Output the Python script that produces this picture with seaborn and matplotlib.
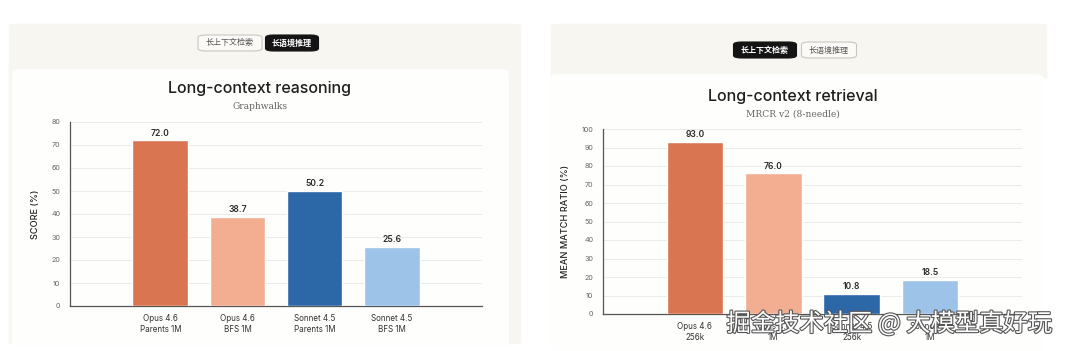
import matplotlib
matplotlib.use("Agg")
import matplotlib.pyplot as plt
import matplotlib.patheffects as pe
from matplotlib.patches import FancyBboxPatch
import pandas as pd
import seaborn as sns

# data
left_labels = ["Opus 4.6\nParents 1M", "Opus 4.6\nBFS 1M", "Sonnet 4.5\nParents 1M", "Sonnet 4.5\nBFS 1M"]
left_scores = [72.0, 38.7, 50.2, 25.6]
left_ticks = [0, 10, 20, 30, 40, 50, 60, 70, 80]

right_labels = ["Opus 4.6\n256k", "Opus 4.6\n1M", "Sonnet 4.5\n256k", "Sonnet 4.5\n1M"]
right_scores = [93.0, 76.0, 10.8, 18.5]
right_ticks = [0, 10, 20, 30, 40, 50, 60, 70, 80, 90, 100]

bar_colors = ["#d97551", "#f3ae92", "#2c67a8", "#9dc4e8"]
tabs = ["长上下文检索", "长语境推理"]

sns.set_theme(style="white")
plt.rcParams["font.family"] = ["Inter", "DejaVu Sans", "Noto Sans CJK SC"]

W, H = 1065, 351
fig = plt.figure(figsize=(W / 100, H / 100), dpi=100)
fig.patch.set_facecolor("white")


def px_box(x0, y0, x1, y1, color, rad=6, z=0, **kw):
    # rectangle given in pixel coords (top-left origin)
    p = FancyBboxPatch((x0 / W, 1 - y1 / H), (x1 - x0) / W, (y1 - y0) / H,
                       boxstyle=f"round,pad=0,rounding_size={rad / W}",
                       transform=fig.transFigure, facecolor=color, zorder=z, **kw)
    fig.patches.append(p)


def pill(xc, yc, w, text, active):
    px_box(xc - w / 2, yc - 8, xc + w / 2, yc + 8,
           "#141414" if active else "#fbfaf7", rad=8, z=2,
           edgecolor="#141414" if active else "#c9c6bf", linewidth=0.8)
    fig.text(xc / W, 1 - yc / H, text, ha="center", va="center", fontsize=5.8,
             color="white" if active else "#555555",
             fontweight="bold" if active else "normal",
             family=["Noto Sans CJK SC", "DejaVu Sans"], zorder=3)


# cards
px_box(8, 23, 522, 345, "#f8f6f1", rad=8)
px_box(13, 70, 508, 347, "#fefefd", rad=8, z=1)
px_box(550, 23, 1048, 80, "#f8f6f1", rad=8)
px_box(550, 75, 1043, 351, "#fefefd", rad=8, z=1)

pill(230, 43, 64, tabs[0], False)
pill(292, 43, 53, tabs[1], True)
pill(765, 50, 63, tabs[0], True)
pill(829, 50, 55, tabs[1], False)


def draw_chart(rect, labels, scores, ticks, ylabel, title, subtitle, title_xy, sub_xy):
    ax = fig.add_axes(rect)
    ax.set_zorder(2)
    ax.patch.set_alpha(0)
    df = pd.DataFrame({"model": labels, "score": scores})
    sns.barplot(data=df, x="model", y="score", hue="model", palette=bar_colors,
                saturation=1, width=0.72, legend=False, ax=ax, zorder=3)
    for bar, v in zip(ax.patches, scores):
        ax.text(bar.get_x() + bar.get_width() / 2, v + ticks[-1] * 0.015, f"{v:.1f}",
                ha="center", va="bottom", fontsize=6.2, fontweight="semibold", color="#2a2a2a")
    ax.set_xlim(-1.17, 4.17)
    ax.set_ylim(0, ticks[-1])
    ax.set_yticks(ticks)
    ax.yaxis.grid(True, color="#ebebeb", linewidth=0.7)
    ax.set_axisbelow(True)
    ax.tick_params(axis="y", labelsize=5.2, labelcolor="#666666", length=0, pad=7)
    ax.tick_params(axis="x", labelsize=5.8, labelcolor="#333333", length=0, pad=6)
    ax.set_xlabel("")
    ax.set_ylabel(ylabel, fontsize=6.6, color="#222222", fontweight="medium", labelpad=8)
    for s in ["top", "right"]:
        ax.spines[s].set_visible(False)
    for s in ["left", "bottom"]:
        ax.spines[s].set_color("#555555")
        ax.spines[s].set_linewidth(0.9)
    fig.text(title_xy[0] / W, 1 - title_xy[1] / H, title, ha="center", va="center",
             fontsize=11.5, fontweight="medium", color="#1e1e1e", zorder=3)
    fig.text(sub_xy[0] / W, 1 - sub_xy[1] / H, subtitle, ha="center", va="center",
             fontsize=6.6, color="#666666", family="DejaVu Serif", zorder=3)
    return ax


draw_chart([70 / W, 1 - 306 / H, 412 / W, 184 / H], left_labels, left_scores, left_ticks,
           "SCORE (%)", "Long-context reasoning", "Graphwalks", (260, 89), (260, 107))
draw_chart([603 / W, 1 - 314 / H, 419 / W, 185 / H], right_labels, right_scores, right_ticks,
           "MEAN MATCH RATIO (%)", "Long-context retrieval", "MRCR v2 (8-needle)", (793, 96), (793, 114))

# watermark
fig.text(889 / W, 1 - 324 / H, "掘金技术社区 @ 大模型真好玩", ha="center", va="center",
         fontsize=17.5, color="white", family=["Noto Sans CJK SC", "DejaVu Sans"], zorder=10,
         path_effects=[pe.withStroke(linewidth=1.6, foreground="#555555")])

fig.savefig("out.png", dpi=100, facecolor="white")
